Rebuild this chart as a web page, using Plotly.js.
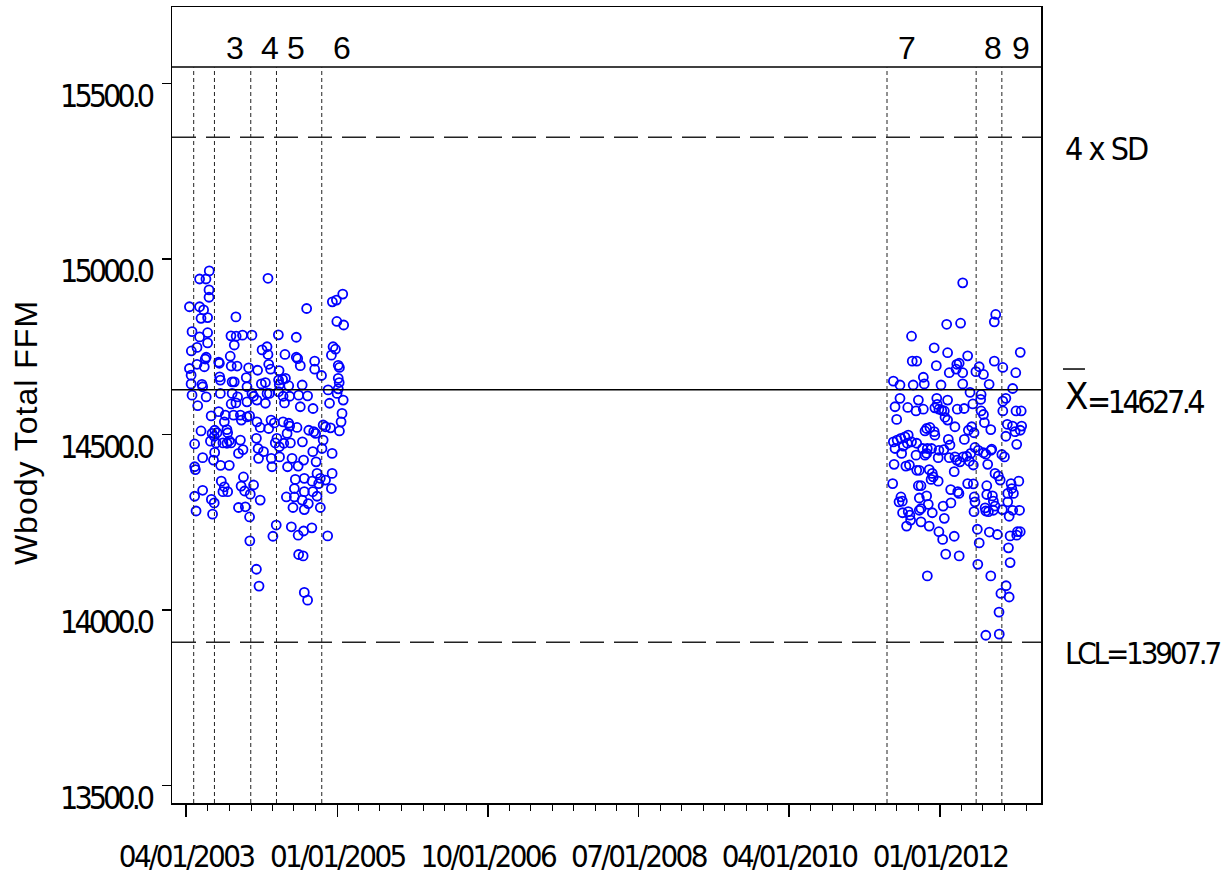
<!DOCTYPE html>
<html>
<head>
<meta charset="utf-8">
<script src="https://cdn.plot.ly/plotly-3.0.1.min.js"></script>
<style>
html, body { margin: 0; padding: 0; background: #ffffff; }
#chart { width: 1221px; height: 875px; }
.xtick text { letter-spacing: -2.6px; }
.ytick text { letter-spacing: -4px; }
</style>
</head>
<body>
<div id="chart"></div>
<script>
// ---- Data (dates as decimal years, values in Wbody Total FFM) ----
const yearsA = [
2003.517,2003.404,2003.479,2003.514,2003.514,2003.285,2003.404,2003.451,2003.421,2003.497,
2003.827,2004.198,2004.647,2004.945,2004.991,2005.064,2004.995,2005.076,2003.316,2003.404,
2003.497,2003.497,2003.769,2003.830,2003.904,2004.013,2003.807,2004.318,2004.527,2003.308,
2003.374,2003.471,2003.482,2003.761,2004.129,2004.187,2004.198,2004.396,2004.527,2004.542,
2004.953,2004.980,2003.285,2003.374,2003.459,2003.625,2003.633,2003.772,2003.839,2003.973,
2004.078,2004.205,2004.229,2004.326,2004.573,2004.739,2004.739,2004.817,2004.933,2005.011,
2005.026,2003.305,2003.305,2003.432,2003.439,2003.637,2003.645,2003.781,2003.807,2003.947,
2003.955,2004.121,2004.167,2004.322,2004.368,2004.399,2004.330,2004.438,2004.593,2005.011,
2005.023,2005.011,2004.895,2003.316,2003.381,2003.482,2003.645,2003.781,2003.846,2003.827,
2003.772,2003.955,2004.013,2004.031,2004.071,2004.167,2004.187,2004.214,2004.322,2004.373,
2004.388,2004.449,2004.554,2004.573,2004.658,2004.721,2004.910,2004.999,2005.069,2005.057,
2005.046,2003.537,2003.625,2003.703,2003.691,2003.799,2003.877,2003.888,2003.955,2003.985,
2004.071,2004.109,2004.233,2004.205,2004.272,2004.373,2004.438,2004.449,2004.535,2004.837,
2004.864,2004.922,2005.026,2003.421,2003.579,2003.606,2003.722,2003.729,2004.670,2004.728,
2004.751,
2003.346,2003.548,2003.575,2003.529,2003.595,2003.579,2003.567,2003.676,2003.722,2003.749,
2003.769,2003.857,2003.908,2003.877,2003.346,2003.354,2003.439,2003.648,2003.749,2003.656,
2003.691,2003.676,2003.729,2003.439,2003.346,2003.540,2003.575,2003.555,2003.363,2003.915,
2003.885,2003.927,2003.857,2003.935,2003.993,2003.985,2004.031,2004.109,2003.989,2004.063,
2004.094,2004.063,2004.082,2004.147,2004.089,2004.237,2004.245,2004.283,2004.303,2004.333,
2004.330,2004.380,2004.419,2004.457,2004.426,2004.477,2004.547,2004.597,2004.612,2004.716,
2004.756,2004.837,2004.825,2004.941,2004.295,2004.256,2004.515,2004.504,2004.620,2004.620,
2004.709,2004.716,2004.411,2004.504,2004.489,2004.593,2004.620,2004.666,2004.767,2004.786,
2004.806,2004.864,2004.941,2004.933,2004.806,2004.767,2004.469,2004.547,2004.612,2004.705,
2004.890,2004.554,2004.605,2004.620,2004.658
];
const valuesA = [
14966,14943,14943,14912,14891,14864,14864,14855,14831,14833,
14835,14945,14859,14878,14883,14900,14822,14812,14793,14778,
14790,14761,14781,14780,14783,14783,14755,14784,14777,14738,
14748,14715,14720,14723,14741,14750,14728,14728,14720,14716,
14750,14743,14688,14700,14693,14706,14703,14695,14695,14690,
14683,14700,14686,14682,14696,14709,14686,14668,14726,14697,
14691,14669,14644,14643,14636,14664,14655,14650,14650,14662,
14636,14644,14648,14655,14657,14660,14642,14639,14641,14660,
14648,14630,14627,14612,14582,14607,14617,14617,14607,14590,
14587,14593,14617,14609,14598,14589,14617,14617,14622,14609,
14590,14609,14612,14579,14610,14574,14589,14617,14598,14560,
14536,14553,14565,14555,14536,14555,14555,14541,14550,14553,
14536,14520,14541,14517,14533,14536,14532,14524,14520,14527,
14522,14519,14510,14510,14512,14505,14514,14505,14512,14508,
14503,
14473,14503,14495,14481,14476,14449,14427,14476,14475,14482,
14476,14446,14457,14484,14408,14400,14434,14412,14412,14367,
14351,14337,14337,14341,14324,14315,14305,14273,14282,14379,
14353,14339,14292,14294,14330,14265,14356,14313,14197,14116,
14068,14489,14460,14451,14432,14432,14408,14476,14489,14436,
14465,14475,14503,14476,14408,14432,14410,14479,14427,14451,
14422,14484,14460,14446,14242,14210,14372,14346,14375,14337,
14367,14337,14322,14322,14292,14313,14286,14303,14389,14360,
14375,14370,14389,14346,14292,14324,14237,14213,14225,14234,
14211,14158,14154,14050,14028
];
const yearsB = [
2012.264,2012.647,2012.630,2012.078,2012.240,2011.671,2011.934,2012.089,2011.678,2011.730,
2012.322,2012.929,2012.630,2011.957,2012.194,2012.224,2012.186,2012.108,2012.264,2012.418,
2012.456,2012.503,2012.728,2012.879,2011.458,2011.536,2011.690,2011.806,2011.818,2012.012,
2012.264,2012.569,2012.844,2011.536,2011.748,2011.962,2011.969,2011.988,2012.089,2012.348,
2012.476,2012.472,2012.380,2012.728,2012.763,2011.478,2011.625,2011.721,2011.806,2011.942,
2012.020,2012.050,2012.201,2012.279,2012.476,2012.503,2012.728,2012.882,2012.940,2011.497,
2012.058,2012.089,2012.514,2012.174,2012.781,2012.839,2012.948,2012.929,2012.871,2012.589,
2011.846,2011.884,2011.934,2011.942,2011.826,2012.329,2012.368,2012.395,2012.763,2012.282,
2012.096,2011.458,2011.504,2011.547,2011.594,2011.632,2011.671,2011.730,2011.478,2011.574,
2011.620,2011.799,2011.853,2011.904,2011.988,2012.046,2012.116,2012.356,2012.406,2012.445,
2012.503,2012.531,2012.592,2012.600,2012.716,2012.746,2012.890,2011.555,2011.721,2011.826,
2011.846,2011.980,2012.108,2012.174,2012.194,2012.232,2012.270,2012.310,2011.466,2011.605,
2011.644,2011.730,2011.760,2011.876,2011.911,2011.922,2011.896,2011.980,2012.166,2012.340,
2012.387,2012.554,2012.638,2012.677,2012.697,2011.451,2011.748,2011.779,2012.124,2012.205,
2012.221,2012.322,2012.387,2012.542,2012.824,2012.914,2012.832,2012.851,2012.786,2011.547,
2011.524,2011.562,2011.760,2011.846,2012.128,2012.398,2012.406,2012.542,2012.607,2012.619,
2012.786,2011.567,2011.632,2011.652,2011.760,2011.779,2011.864,2011.911,2012.038,2012.050,
2012.395,2012.522,2012.531,2012.561,2012.619,2012.638,2012.723,2012.844,2012.921,2012.801,
2011.660,2011.613,2011.779,2011.876,2011.988,2012.031,2012.166,2012.433,2012.456,2012.572,
2012.665,2012.813,2012.897,2012.929,2012.890,2012.793,2012.066,2012.224,2012.438,2012.813,
2011.853,2012.589,2012.766,2012.705,2012.801,2012.685,2012.531,2012.688
];
const valuesB = [
14932,14842,14821,14814,14817,14780,14747,14733,14709,14709,
14724,14734,14709,14696,14700,14703,14686,14676,14676,14679,
14693,14671,14691,14676,14652,14641,14641,14663,14644,14641,
14644,14643,14631,14603,14598,14603,14586,14572,14598,14620,
14614,14600,14587,14595,14603,14579,14577,14567,14572,14576,
14569,14567,14572,14574,14567,14557,14567,14567,14567,14543,
14549,14541,14534,14522,14529,14524,14524,14512,14508,14514,
14517,14520,14508,14498,14510,14512,14522,14505,14495,14486,
14486,14479,14484,14489,14493,14498,14479,14475,14460,14467,
14475,14460,14460,14460,14455,14457,14470,14446,14463,14455,
14448,14444,14455,14458,14443,14436,14472,14446,14441,14441,
14446,14434,14434,14436,14427,14422,14436,14438,14415,14410,
14413,14398,14398,14400,14389,14379,14372,14367,14394,14424,
14413,14415,14389,14382,14370,14360,14354,14354,14343,14337,
14332,14360,14359,14354,14360,14367,14346,14332,14332,14322,
14308,14310,14319,14325,14305,14322,14308,14329,14325,14310,
14308,14277,14280,14270,14284,14289,14301,14277,14296,14261,
14280,14291,14282,14280,14284,14296,14286,14284,14284,14267,
14256,14239,14251,14239,14223,14201,14210,14230,14191,14222,
14215,14211,14223,14223,14213,14177,14159,14154,14130,14135,
14097,14097,14069,14047,14037,13994,13928,13931
];

const meanValue = 14627.4;
const lclValue = 13907.7;
const uclValue = 15347.1;   // 4 x SD limit

const phaseChangeDates = ['2003-05-03','2003-07-30','2003-12-31','2004-04-18','2004-10-27','2011-05-21','2012-06-02','2012-09-19'];
const phaseLabels = ['3','4','5','6','7','8','9'];
const phaseLabelDates = ['2003-10-26','2004-03-22','2004-07-10','2005-01-21','2011-08-14','2012-08-13','2012-12-09'];

const yTickValues = [13500, 14000, 14500, 15000, 15500];
const xRange = ['2003-01-31', '2013-03-04'];
const yRange = [13450, 15718];

// ---- helpers ----
function decYearToDate(v) {
  const yr = Math.floor(v);
  const s = Date.UTC(yr, 0, 1), e = Date.UTC(yr + 1, 0, 1);
  return new Date(s + (v - yr) * (e - s)).toISOString().slice(0, 10);
}
function tight(txt, px) { return '<span style="letter-spacing:' + px + 'px">' + txt + '</span>'; }

const NARROW = "'DejaVu Sans Condensed', 'Liberation Sans Narrow', sans-serif";
const REGULAR = "'Liberation Sans', Arial, sans-serif";
const BAND_Y = 0.9246;

const xs = yearsA.concat(yearsB).map(decYearToDate);
const ys = valuesA.concat(valuesB);

const trace = {
  type: 'scatter', mode: 'markers',
  x: xs, y: ys,
  marker: { symbol: 'circle-open', size: 9, color: '#0000ff', line: { width: 1.8, color: '#0000ff' } },
  hoverinfo: 'skip', showlegend: false
};

const shapes = [];
shapes.push({ type: 'line', xref: 'paper', yref: 'paper', x0: 0, x1: 1, y0: BAND_Y, y1: BAND_Y, line: { color: '#000', width: 1.5 } });
shapes.push({ type: 'line', xref: 'paper', yref: 'y', x0: 0, x1: 1, y0: meanValue, y1: meanValue, line: { color: '#000', width: 1.5 } });
[uclValue, lclValue].forEach(v => shapes.push({ type: 'line', xref: 'paper', yref: 'y', x0: 0, x1: 1, y0: v, y1: v, line: { color: '#222', width: 1.5, dash: '24px,10px' } }));
phaseChangeDates.forEach(d => shapes.push({ type: 'line', xref: 'x', yref: 'paper', x0: d, x1: d, y0: 0, y1: BAND_Y, line: { color: '#222', width: 1, dash: '4px,3px' } }));
// bar over X
shapes.push({ type: 'line', xref: 'paper', yref: 'paper', x0: 1.0253, x1: 1.0506, y0: 0.5452, y1: 0.5452, line: { color: '#000', width: 1.5 } });

const annotations = [];
phaseLabels.forEach((t, i) => annotations.push({ xref: 'x', yref: 'paper', x: phaseLabelDates[i], y: 0.9485, text: t, showarrow: false, xanchor: 'center', yanchor: 'middle', font: { family: REGULAR, size: 32, color: '#000' } }));
annotations.push({ xref: 'paper', yref: 'paper', x: 1.0253, y: 0.8216, text: tight('4 x SD', -2), showarrow: false, xanchor: 'left', yanchor: 'middle', font: { family: NARROW, size: 32, color: '#000' } });
annotations.push({ xref: 'paper', yref: 'paper', x: 1.0253, y: 0.5107, text: 'X', showarrow: false, xanchor: 'left', yanchor: 'middle', font: { family: NARROW, size: 38, color: '#000' } });
annotations.push({ xref: 'paper', yref: 'paper', x: 1.0506, y: 0.5038, text: tight('=' + meanValue.toFixed(1), -3.5), showarrow: false, xanchor: 'left', yanchor: 'middle', font: { family: NARROW, size: 32, color: '#000' } });
annotations.push({ xref: 'paper', yref: 'paper', x: 1.0253, y: 0.1884, text: tight('LCL=' + lclValue.toFixed(1), -3.2), showarrow: false, xanchor: 'left', yanchor: 'middle', font: { family: NARROW, size: 31, color: '#000' } });
annotations.push({ xref: 'paper', yref: 'paper', x: -0.1680, y: 0.4647, text: tight('Wbody Total FFM', 1), textangle: -90, showarrow: false, xanchor: 'center', yanchor: 'middle', font: { family: REGULAR, size: 32, color: '#000' } });

const layout = {
  width: 1221, height: 875,
  margin: { l: 172, r: 180, t: 7, b: 72, pad: 0 },
  paper_bgcolor: '#fff', plot_bgcolor: '#fff',
  showlegend: false,
  xaxis: {
    type: 'date', range: xRange, autorange: false,
    tick0: '2003-04-01', dtick: 'M21', tickformat: '%m/%d/%Y', tickangle: 0,
    ticks: 'outside', ticklen: 12, tickwidth: 1.5, tickcolor: '#000',
    showline: true, mirror: true, linecolor: '#000', linewidth: 1.5,
    showgrid: false, zeroline: false,
    tickfont: { family: NARROW, size: 31, color: '#000' },
    ticklabelstandoff: 13,
    minor: { dtick: 'M3', tick0: '2003-04-01', ticks: 'outside', ticklen: 6, tickwidth: 1, tickcolor: '#000', showgrid: false }
  },
  yaxis: {
    range: yRange, autorange: false,
    tickmode: 'array', tickvals: yTickValues, ticktext: yTickValues.map(v => v.toFixed(1)),
    ticks: 'outside', ticklen: 9, tickwidth: 1.5, tickcolor: '#000',
    showline: true, mirror: true, linecolor: '#000', linewidth: 1.5,
    showgrid: false, zeroline: false,
    tickfont: { family: NARROW, size: 32, color: '#000' },
    ticklabelstandoff: 4, ticklabelshift: 12
  },
  shapes: shapes,
  annotations: annotations
};

Plotly.newPlot('chart', [trace], layout, { staticPlot: true, displayModeBar: false });
</script>
</body>
</html>
